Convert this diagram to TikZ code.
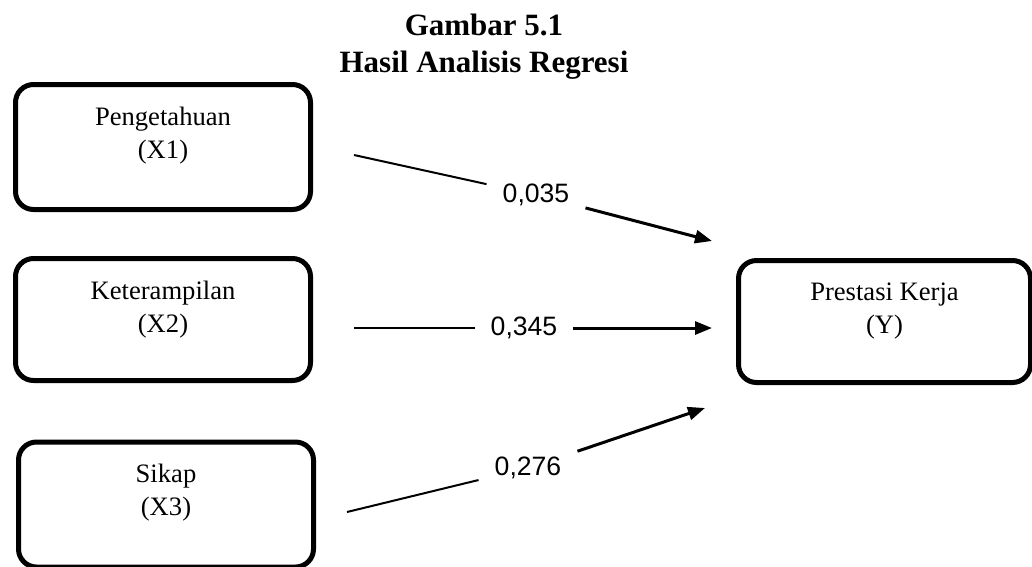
\documentclass[tikz,border=0pt]{standalone}
\usepackage{fontspec}
\setmainfont{Liberation Serif}
\newfontfamily\coeffont{Liberation Sans}
\usetikzlibrary{arrows.meta, positioning}

\begin{document}
\begin{tikzpicture}[x=1pt, y=-1pt,
  varbox/.style={draw=black, line width=5pt, rounded corners=18pt, minimum width=295pt, minimum height=125pt, inner sep=0pt},
  vartext/.style={anchor=north, inner sep=0pt, align=center, font=\fontsize{26.6}{33}\selectfont},
  coef/.style={inner xsep=16pt, inner ysep=6pt, font=\coeffont\fontsize{26.6}{32}\selectfont},
  thinlink/.style={line width=2pt},
  link/.style={line width=3pt, -{Triangle[length=17pt,width=13pt]}}]
\useasboundingbox (0,0) rectangle (1032,566);
\clip (0,0) rectangle (1032,566);

% Title
\node[anchor=north, align=center, inner sep=0pt, font=\bfseries\fontsize{31}{37}\selectfont] (title) at (484,14) {Gambar 5.1\\Hasil Analisis Regresi};

% Variable boxes
\node[varbox] (x1) at (163,147) {};
\node[varbox, minimum height=122pt] (x2) at (163,319.5) {};
\node[varbox] (x3) at (166,504.5) {};
\node[varbox, minimum width=292pt, minimum height=122pt] (y) at (884.5,321.5) {};

\node[vartext] (x1t) at ([yshift=-24.5pt]x1.north) {Pengetahuan\\(X1)};
\node[vartext] (x2t) at ([yshift=-24.5pt]x2.north) {Keterampilan\\(X2)};
\node[vartext] (x3t) at ([yshift=-24.5pt]x3.north) {Sikap\\(X3)};
\node[vartext] (yt) at ([yshift=-24.5pt]y.north) {Prestasi Kerja\\(Y)};

% Regression coefficients
\coordinate (s1) at (354,155);
\coordinate (t1) at (712,241);
\coordinate (s2) at (354,328);
\coordinate (t2) at (712,328);
\coordinate (s3) at (347,512);
\coordinate (t3) at (705,408);

\node[coef] (c1) at (536,195) {0,035};
\node[coef] (c2) at (524,328) {0,345};
\node[coef] (c3) at (528,468) {0,276};

\draw[thinlink] (s1) -- (c1);
\draw[link] (c1) -- (t1);
\draw[thinlink] (s2) -- (c2);
\draw[link] (c2) -- (t2);
\draw[thinlink] (s3) -- (c3);
\draw[link] (c3) -- (t3);
\end{tikzpicture}
\end{document}
